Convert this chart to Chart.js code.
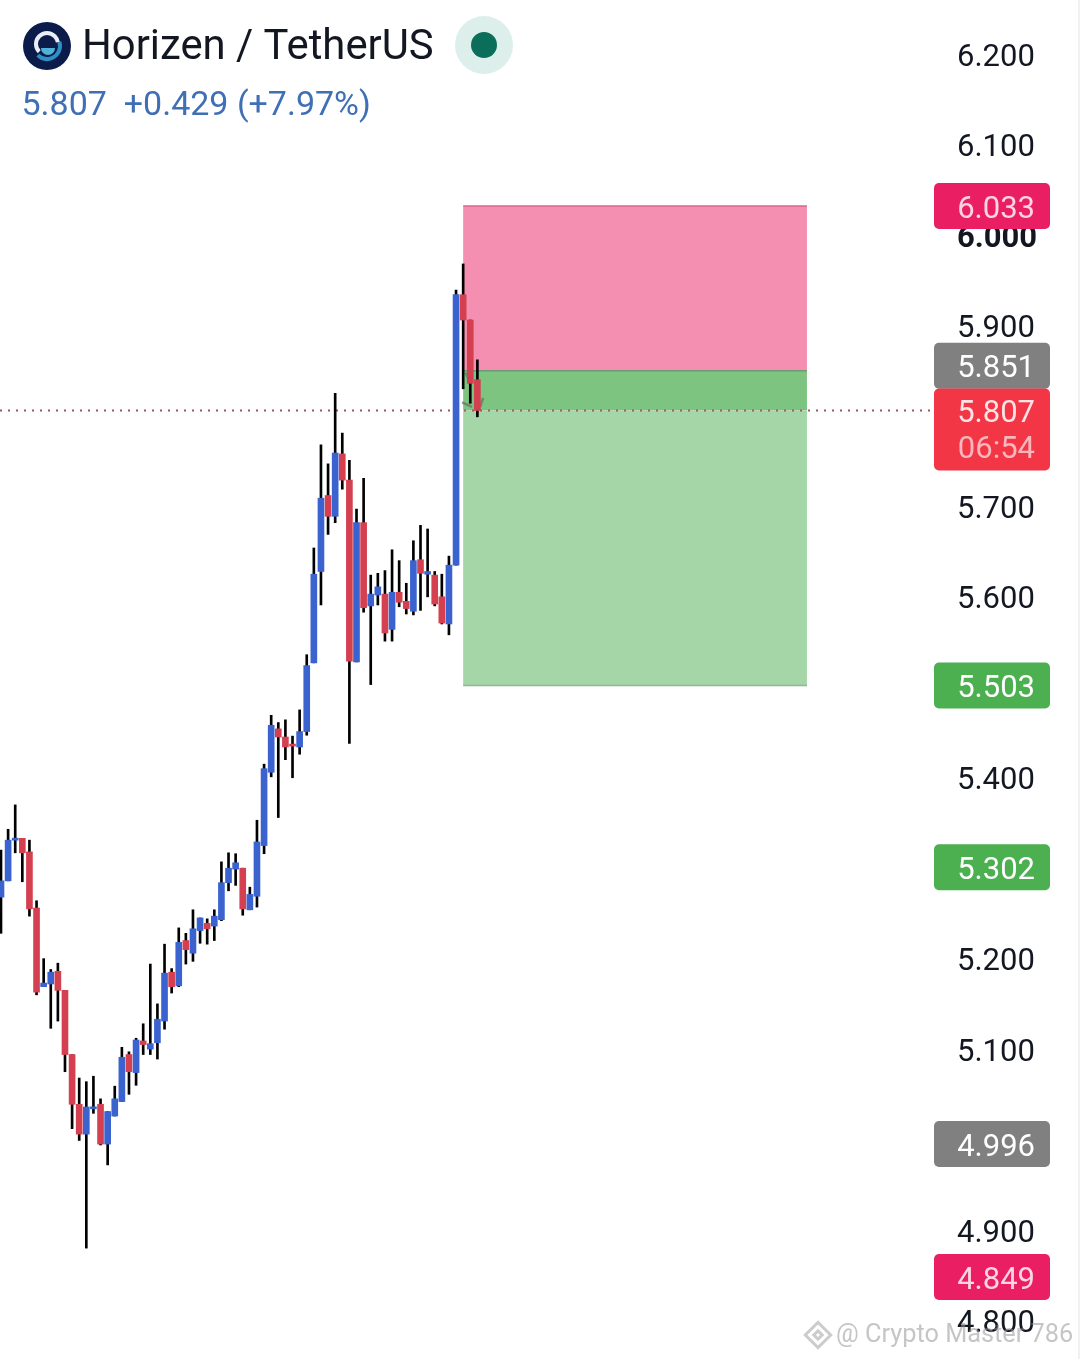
<!DOCTYPE html>
<html>
<head>
<meta charset="utf-8">
<title>Horizen / TetherUS</title>
<script src="https://cdn.jsdelivr.net/npm/chart.js@4/dist/chart.umd.min.js"></script>
<style>
html,body{margin:0;padding:0;background:#fff;}
canvas{display:block;}
</style>
</head>
<body>
<canvas id="grafico" width="1080" height="1359"></canvas>
<script>
var opens = [5.269,5.287,5.332,5.334,5.319,5.257,5.170,5.173,5.187,5.166,5.095,5.040,5.007,5.035,5.040,4.996,5.027,5.043,5.095,5.075,5.110,5.101,5.108,5.132,5.186,5.171,5.221,5.207,5.232,5.240,5.237,5.244,5.285,5.300,5.301,5.255,5.270,5.326,5.407,5.455,5.446,5.438,5.435,5.452,5.528,5.629,5.713,5.690,5.759,5.730,5.529,5.683,5.591,5.603,5.604,5.565,5.606,5.596,5.585,5.642,5.626,5.625,5.601,5.571,5.636,5.935,5.907,5.841];
var closes = [5.287,5.332,5.334,5.318,5.256,5.164,5.174,5.186,5.166,5.095,5.040,5.007,5.037,5.037,4.996,5.032,5.046,5.092,5.076,5.111,5.106,5.107,5.134,5.185,5.170,5.219,5.211,5.234,5.246,5.234,5.248,5.285,5.301,5.307,5.256,5.272,5.330,5.411,5.459,5.446,5.435,5.436,5.452,5.525,5.626,5.710,5.690,5.760,5.730,5.530,5.683,5.589,5.604,5.612,5.561,5.606,5.595,5.588,5.641,5.627,5.629,5.593,5.572,5.636,5.935,5.907,5.837,5.807];
var highs = [5.321,5.344,5.371,5.334,5.332,5.265,5.201,5.189,5.196,5.166,5.095,5.069,5.065,5.071,5.046,5.032,5.060,5.103,5.098,5.113,5.129,5.195,5.151,5.217,5.190,5.235,5.229,5.255,5.246,5.245,5.255,5.308,5.318,5.317,5.301,5.280,5.354,5.416,5.470,5.462,5.465,5.447,5.476,5.537,5.655,5.769,5.748,5.826,5.782,5.752,5.698,5.732,5.625,5.627,5.630,5.653,5.641,5.616,5.663,5.680,5.676,5.629,5.626,5.646,5.940,5.969,5.907,5.863];
var lows = [5.229,5.287,5.318,5.286,5.248,5.161,5.170,5.124,5.132,5.076,5.013,5.000,4.881,5.030,4.995,4.973,5.027,5.043,5.051,5.061,5.095,5.095,5.090,5.123,5.163,5.170,5.195,5.198,5.218,5.217,5.221,5.243,5.276,5.282,5.249,5.255,5.258,5.317,5.402,5.357,5.421,5.401,5.427,5.448,5.528,5.592,5.670,5.683,5.720,5.439,5.529,5.584,5.504,5.592,5.552,5.552,5.590,5.582,5.581,5.586,5.601,5.591,5.571,5.559,5.636,5.831,5.815,5.800];

var yTicks = [6.2,6.1,6.0,5.9,5.8,5.7,5.6,5.5,5.4,5.3,5.2,5.1,5.0,4.9,4.8];

var stopPrice = 6.033;
var entryPrice = 5.851;
var lastPrice = 5.807;
var targetPrice = 5.503;
var boxFrom = 65;
var boxTo = 113.35;

// small grey arrow of the trade tool, each row is one stroke
var arrowFromX = [65.3,64.85,67.4];
var arrowFromY = [5.849,5.816,5.811];
var arrowToX = [66.0,66.25,67.8];
var arrowToY = [5.838,5.811,5.821];

var pillPrices = [6.033,5.851,5.503,5.302,4.996,4.849];
var pillColors = ['#e91e63','#808080','#4caf50','#4caf50','#808080','#e91e63'];
var pillText = ['#fbd5e3','#ffffff','#ffffff','#ffffff','#ffffff','#fbd5e3'];

var titleText = 'Horizen / TetherUS';
var quoteText = '5.807  +0.429 (+7.97%)';
var countdownText = '06:54';
var watermarkText = '@ Crypto Master 786';

var axisFont = 'Roboto, sans-serif';

function pontos(a, b){
    var r = [];
    for(var i=0;i<a.length;i++){
        r.push({x:i, y:[a[i], b[i]]});
    }
    return r;
}

function pill(ctx, y, h, cor){
    ctx.fillStyle = cor;
    ctx.beginPath();
    ctx.roundRect(934, y, 116, h, 5);
    ctx.fill();
}

// boxes and the dotted last price go under the candles
var fundo = {
    id:'fundo',
    beforeDatasetsDraw:function(chart){
        var c = chart.ctx, sx = chart.scales.x, sy = chart.scales.y;
        var x0 = sx.getPixelForValue(boxFrom), x1 = sx.getPixelForValue(boxTo);
        var yS = sy.getPixelForValue(stopPrice), yE = sy.getPixelForValue(entryPrice);
        var yL = sy.getPixelForValue(lastPrice), yT = sy.getPixelForValue(targetPrice);
        c.save();
        c.fillStyle = '#f48fb1';
        c.fillRect(x0, yS, x1-x0, yE-yS);
        c.fillStyle = '#7cc47f';
        c.fillRect(x0, yE, x1-x0, yL-yE);
        c.fillStyle = '#a5d6a7';
        c.fillRect(x0, yL, x1-x0, yT-yL);
        c.lineWidth = 1.5;
        c.strokeStyle = '#d9668f';
        c.beginPath(); c.moveTo(x0,yS); c.lineTo(x1,yS); c.stroke();
        c.strokeStyle = '#6f9a72';
        c.beginPath(); c.moveTo(x0,yE); c.lineTo(x1,yE); c.stroke();
        c.strokeStyle = '#8fb693';
        c.beginPath(); c.moveTo(x0,yT); c.lineTo(x1,yT); c.stroke();

        c.strokeStyle = 'rgba(105,115,105,0.75)';
        c.lineWidth = 2.5;
        for(var i=0;i<arrowFromX.length;i++){
            c.beginPath();
            c.moveTo(sx.getPixelForValue(arrowFromX[i]), sy.getPixelForValue(arrowFromY[i]));
            c.lineTo(sx.getPixelForValue(arrowToX[i]), sy.getPixelForValue(arrowToY[i]));
            c.stroke();
        }

        c.strokeStyle = '#9c5a5c';
        c.lineWidth = 2;
        c.setLineDash([2,6]);
        c.beginPath(); c.moveTo(0,yL); c.lineTo(sx.right,yL); c.stroke();
        c.restore();
    }
};

// header, price labels and watermark on top of everything
var frente = {
    id:'frente',
    afterDraw:function(chart){
        var c = chart.ctx, sy = chart.scales.y;
        c.save();

        c.textBaseline = 'middle';
        c.textAlign = 'right';
        c.font = '31px ' + axisFont;
        for(var i=0;i<pillPrices.length;i++){
            var py = sy.getPixelForValue(pillPrices[i]);
            if(pillPrices[i] == entryPrice) py = py - 5;
            pill(c, py-23, 46, pillColors[i]);
            c.fillStyle = pillText[i];
            c.fillText(pillPrices[i].toFixed(3), 1035, py+4);
        }
        var ly = sy.getPixelForValue(lastPrice);
        pill(c, ly-22, 82, '#f23645');
        c.fillStyle = '#fde3e5';
        c.fillText(lastPrice.toFixed(3), 1035, ly+4);
        c.fillStyle = '#f9b6bc';
        c.fillText(countdownText, 1035, ly+40);

        // logo
        c.fillStyle = '#0b1b4a';
        c.beginPath(); c.arc(47,46,24,0,Math.PI*2); c.fill();
        c.lineWidth = 4;
        c.strokeStyle = '#e8eef5';
        c.beginPath(); c.arc(47,44,11,Math.PI*0.75,Math.PI*1.95); c.stroke();
        c.strokeStyle = '#2f8fc4';
        c.beginPath(); c.arc(47,46,13,-Math.PI*0.1,Math.PI*0.75); c.stroke();
        c.fillStyle = '#4fb3d9';
        c.beginPath(); c.arc(48,48,7,0,Math.PI); c.fill();

        c.textAlign = 'left';
        c.fillStyle = '#131722';
        c.font = '41.8px ' + axisFont;
        c.fillText(titleText, 82, 49);
        c.fillStyle = '#3f6fb5';
        c.font = '34px ' + axisFont;
        c.fillText(quoteText, 21.5, 106);

        // market status
        c.fillStyle = '#dcefeb';
        c.beginPath(); c.arc(484,45,29,0,Math.PI*2); c.fill();
        c.fillStyle = '#0b6e5a';
        c.beginPath(); c.arc(484,45,13,0,Math.PI*2); c.fill();

        // watermark
        c.fillStyle = 'rgba(150,150,150,0.55)';
        c.font = '25.3px ' + axisFont;
        c.fillText(watermarkText, 836, 1336);
        c.strokeStyle = 'rgba(170,170,170,0.6)';
        c.lineWidth = 3;
        c.translate(818,1335);
        c.rotate(Math.PI/4);
        c.strokeRect(-9,-9,18,18);
        c.strokeRect(-3,-3,6,6);
        c.restore();

        // thin strip at the right edge of the screenshot
        c.fillStyle = '#f1f1f1';
        c.fillRect(1078,0,2,1359);
    }
};

function criaGrafico(){
    var wicks = {
        data: pontos(lows, highs),
        backgroundColor: '#000000',
        barThickness: 2,
        grouped: false,
        minBarLength: 1,
        order: 2
    };
    var bodies = {
        data: pontos(opens, closes),
        backgroundColor: function(ctx){
            var i = ctx.dataIndex;
            return closes[i] >= opens[i] ? '#3a63cf' : '#d4404f';
        },
        barThickness: 6,
        grouped: false,
        minBarLength: 2,
        order: 1
    };

    var grafico = new Chart("grafico", {
        type: 'bar',
        data: { datasets: [wicks, bodies] },
        plugins: [fundo, frente],
        options: {
            responsive: false,
            animation: false,
            devicePixelRatio: 1,
            layout: { padding: 0 },
            plugins: { legend: { display:false }, tooltip: { enabled:false } },
            scales: {
                x: {
                    type: 'linear',
                    display: false,
                    offset: false,
                    min: -0.14,
                    max: 131.22
                },
                y: {
                    position: 'right',
                    min: 4.7584,
                    max: 6.2608,
                    border: { display:false },
                    grid: { display:false, drawTicks:false },
                    afterFit: function(s){
                        s.width = 146;
                        s.paddingTop = 0;
                        s.paddingBottom = 0;
                    },
                    afterBuildTicks: function(s){
                        s.ticks = yTicks.map(function(v){ return {value:v}; });
                    },
                    ticks: {
                        autoSkip: false,
                        padding: 23,
                        labelOffset: 3,
                        color: '#131722',
                        font: function(ctx){
                            var v = ctx.tick ? ctx.tick.value : 0;
                            return { family: axisFont, size: 31, weight: v == 6 ? 'bold' : 'normal' };
                        },
                        callback: function(v){ return Number(v).toFixed(3); }
                    }
                }
            }
        }
    });
}
criaGrafico();
</script>
</body>
</html>
